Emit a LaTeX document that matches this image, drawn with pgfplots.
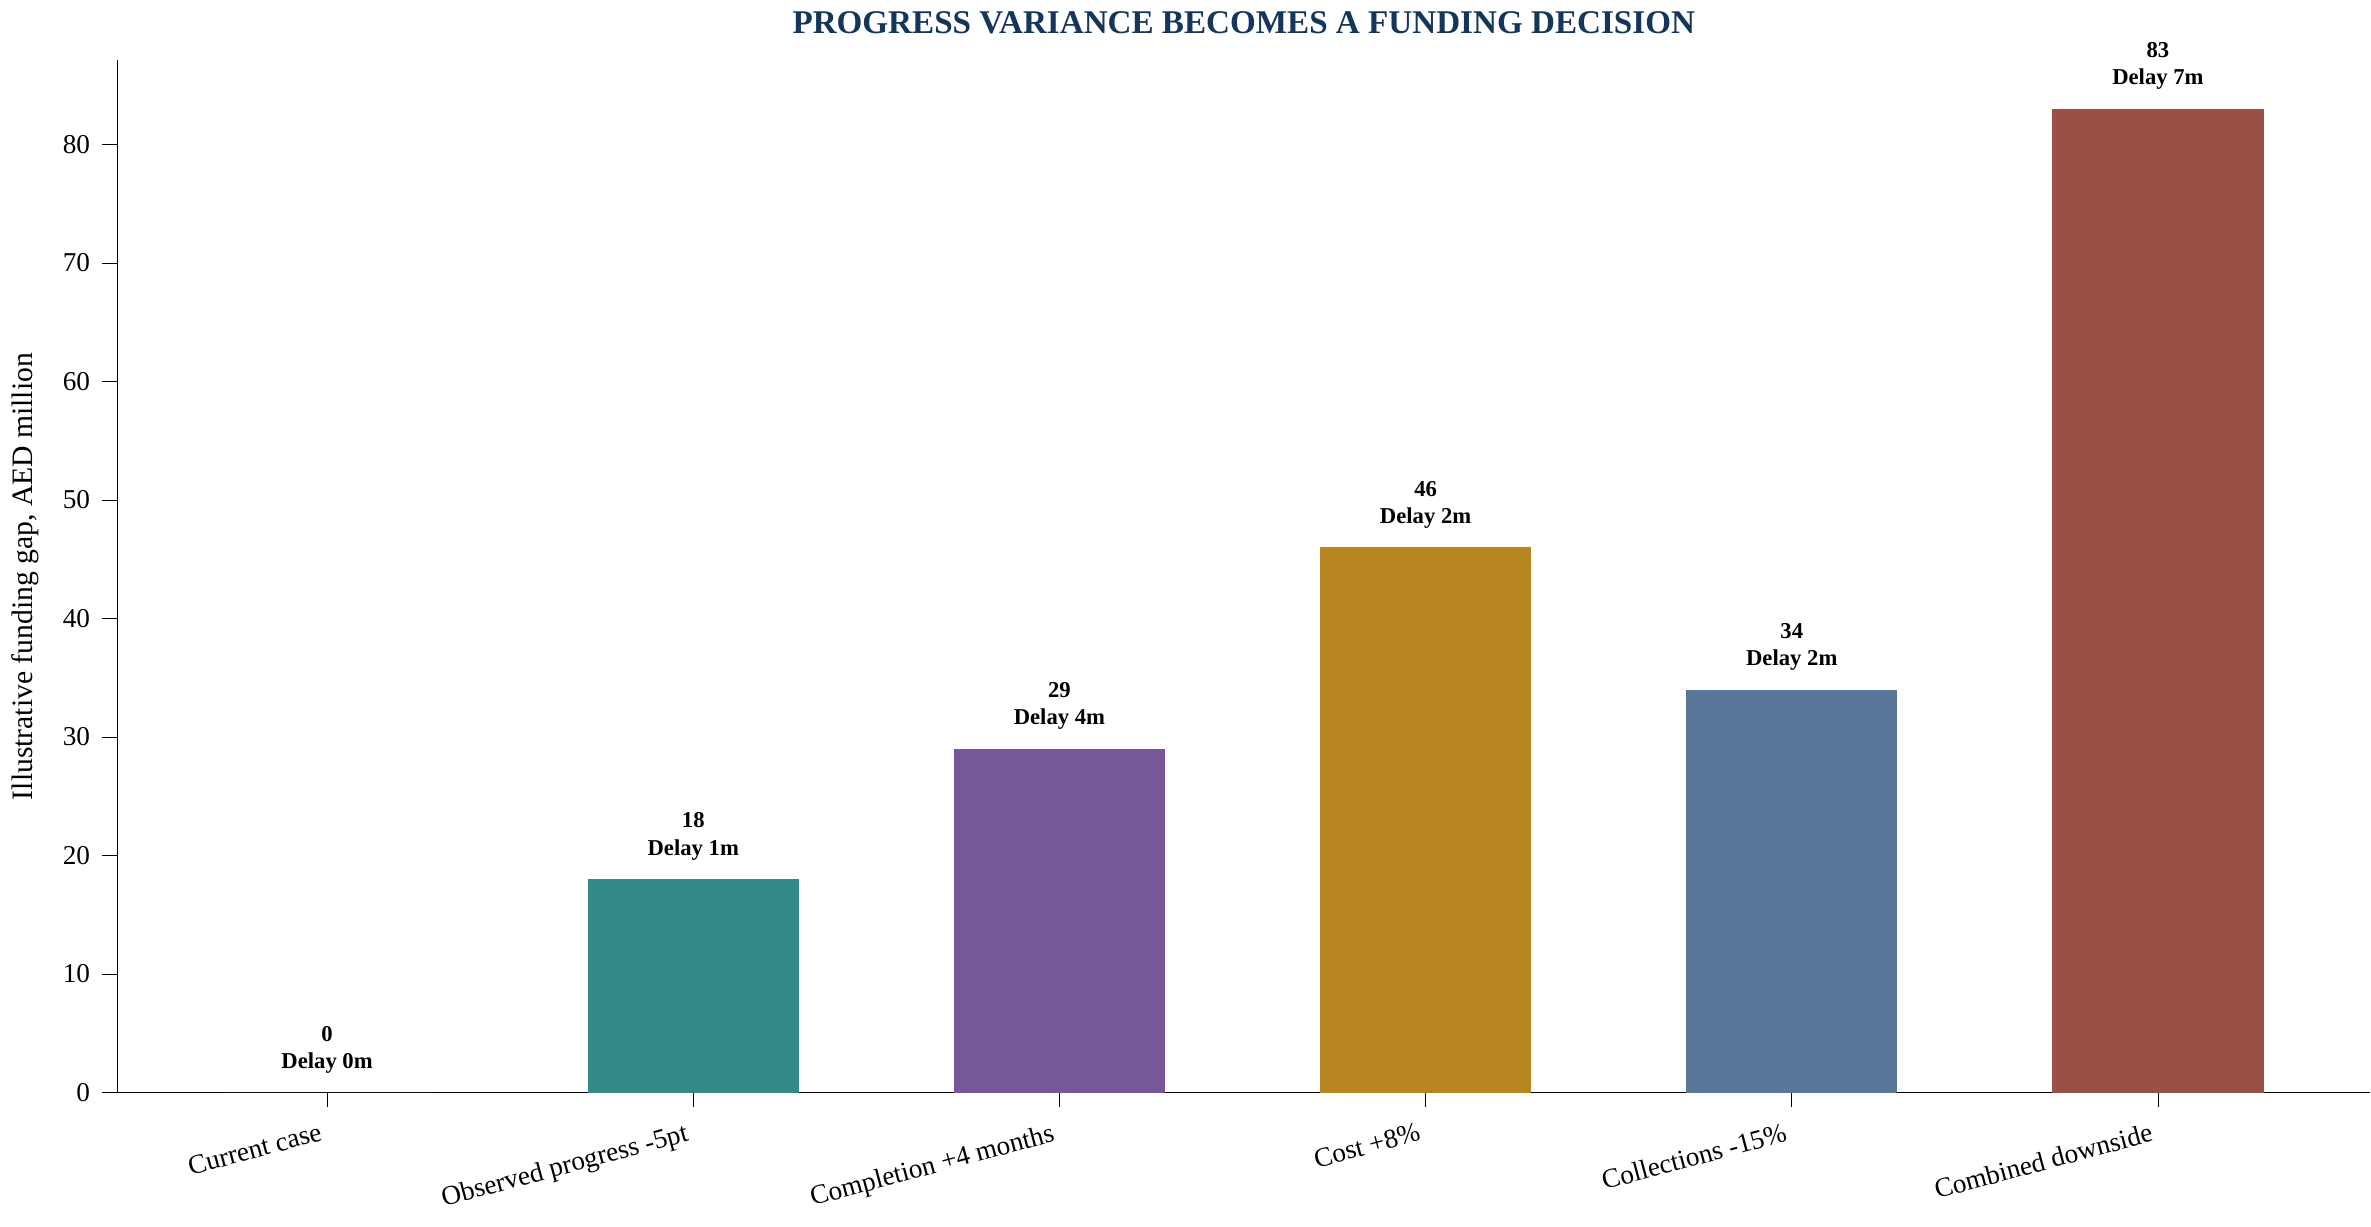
\documentclass[border=0pt]{standalone}
\usepackage{pgfplots}
\pgfplotsset{compat=1.18}
\usepackage{fontspec}
\setmainfont{Liberation Serif}
\definecolor{cA}{HTML}{338A87}
\definecolor{cB}{HTML}{765899}
\definecolor{cC}{HTML}{B88620}
\definecolor{cD}{HTML}{5A7799}
\definecolor{cE}{HTML}{9A5045}
\definecolor{tt}{HTML}{14365A}
\begin{document}
\begin{tikzpicture}
\begin{axis}[
  scale only axis, width=22.7cm, height=10.4cm,
  xmin=-0.573, xmax=5.58, ymin=0, ymax=87.1,
  axis lines*=left, tick align=outside, axis line style={black}, tick style={black},
  xtick={0,1,2,3,4,5},
  xticklabels={Current case,Observed progress -5pt,Completion +4 months,Cost +8\%,Collections -15\%,Combined downside},
  xticklabel style={rotate=15,anchor=north east,font=\fontsize{7.8}{9}\selectfont},
  yticklabel style={font=\fontsize{7.8}{9}\selectfont},
  ytick={0,10,...,80},
  /pgf/number format/assume math mode=true,
  ylabel={Illustrative funding gap, AED million},
  ylabel style={font=\fontsize{8.5}{10}\selectfont},
  title={\textbf{PROGRESS VARIANCE BECOMES A FUNDING DECISION}},
  title style={font=\fontsize{9.5}{11}\selectfont,text=tt,yshift=-2pt},
  ybar, bar width=0.577, bar shift=0pt,
  point meta=explicit symbolic,
  nodes near coords,
  every node near coord/.append style={font=\fontsize{6.5}{7.8}\selectfont\bfseries,align=center,yshift=2pt},
]
\addplot[fill=cA,draw=none] coordinates {(0,0) [0\\Delay 0m]};
\addplot[fill=cA,draw=none] coordinates {(1,18) [18\\Delay 1m]};
\addplot[fill=cB,draw=none] coordinates {(2,29) [29\\Delay 4m]};
\addplot[fill=cC,draw=none] coordinates {(3,46) [46\\Delay 2m]};
\addplot[fill=cD,draw=none] coordinates {(4,34) [34\\Delay 2m]};
\addplot[fill=cE,draw=none] coordinates {(5,83) [83\\Delay 7m]};
\end{axis}
\end{tikzpicture}
\end{document}
